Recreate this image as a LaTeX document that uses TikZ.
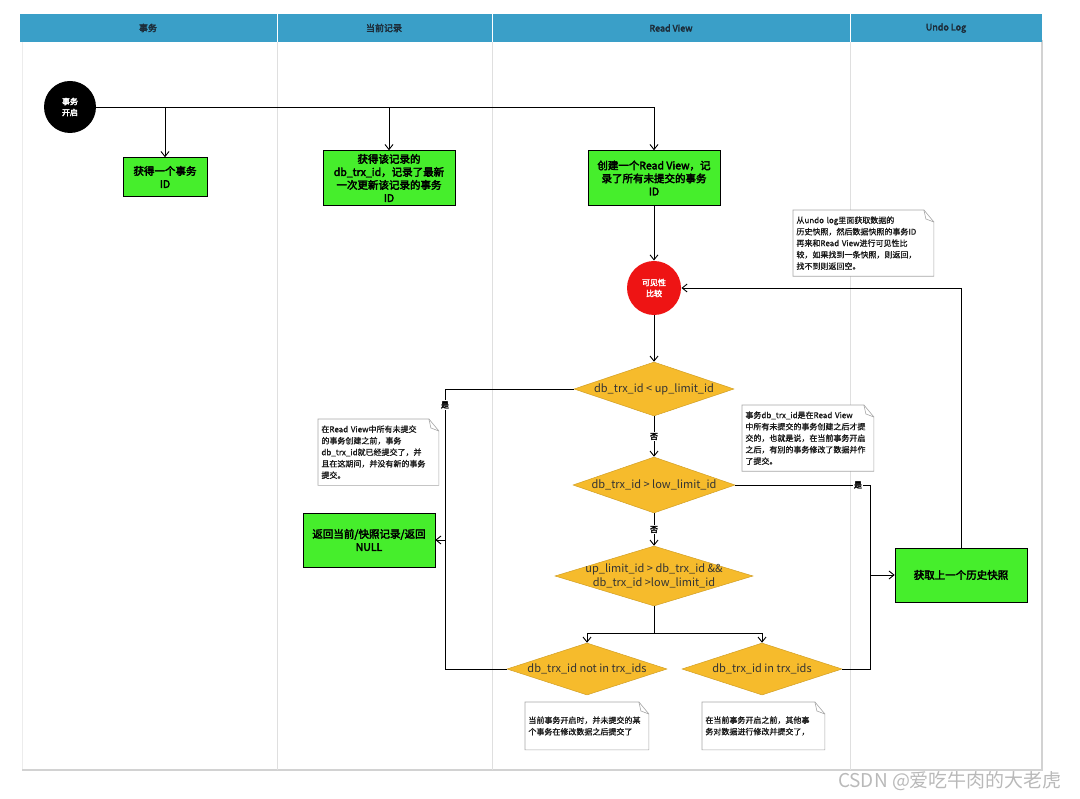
\documentclass[tikz,border=0pt]{standalone}
\usepackage{fontspec}
\setmainfont{Noto Sans CJK SC}
\newfontfamily\hw[FakeBold=3]{Noto Sans CJK SC}
\newfontfamily\nf[FakeBold=1]{Noto Sans CJK SC}
\usepackage{tikz}
\usetikzlibrary{shapes,shapes.geometric}
\usetikzlibrary{arrows,arrows.meta,positioning}
\definecolor{hdblue}{HTML}{3A9FC8}
\definecolor{boxgreen}{HTML}{46EE2C}
\definecolor{dmorange}{HTML}{F6BB2C}
\definecolor{cmpred}{HTML}{EE1414}
\definecolor{hdtext}{HTML}{1D2D3A}
\tikzstyle{hd}=[text=hdtext, font=\hw\fontsize{9}{9}\selectfont]
\tikzstyle{gb}=[rectangle, draw=black, line width=0.6pt, fill=boxgreen, align=center, inner sep=2pt, font=\hw\fontsize{10.5}{13}\selectfont]
\tikzstyle{cl}=[circle, text=white, align=center, inner sep=0pt, minimum size=52pt, font=\hw\fontsize{8}{11}\selectfont]
\tikzstyle{dm}=[diamond, draw=dmorange!85!black, line width=0.5pt, fill=dmorange, inner sep=0pt]
\tikzstyle{dt}=[align=center, text=black!80, font=\fontsize{11}{14}\selectfont]
\tikzstyle{nt}=[rectangle, fill=white, anchor=north west, align=left, inner xsep=3pt, inner ysep=6pt, text=black!90, font=\nf\fontsize{8}{11.5}\selectfont]
\tikzstyle{yn}=[fill=white, inner sep=1pt, font=\hw\fontsize{8}{8}\selectfont]
\newcommand{\dogear}[1]{%
  \draw[gray!70, line width=0.6pt] (#1.south west) -- (#1.north west) -- ([xshift=-10pt]#1.north east)
    -- ([yshift=-12pt]#1.north east) -- (#1.south east) -- cycle;
  \draw[gray!70, line width=0.6pt] ([xshift=-10pt]#1.north east) -- ([xshift=-8pt,yshift=-9pt]#1.north east)
    -- ([yshift=-12pt]#1.north east);}

\begin{document}
\begin{tikzpicture}
[x=1pt, y=-1pt, line width=0.9pt, >={Straight Barb[length=5pt,width=8pt]}]
\useasboundingbox (0,0) rectangle (1080,799);
% page frame and lanes
\draw[gray!15, line width=1pt] (22,42) -- (22,770);
\draw[gray!35, line width=2.5pt] (1042,40) -- (1042,770) -- (22,770);
\foreach \lx in {277,492,850}
  \draw[gray!25, line width=1pt] (\lx,42) -- (\lx,770);
\fill[hdblue] (20,14) rectangle (1042,42);
\foreach \lx in {277,492,850}
  \draw[white, line width=0.8pt] (\lx,14) -- (\lx,42);
\node[hd] (h1) at (148,28) {事务};
\node[hd] (h2) at (384,28) {当前记录};
\node[hd] (h3) at (671,28) {Read View};
\node[hd] (h4) at (946,28) {Undo Log};

% nodes
\node[cl, fill=black] (st) at (70,107) {事务\\开启};
\node[gb, minimum width=84pt, minimum height=39pt] (id) at (165,177) {获得一个事务\\ID};
\node[gb, minimum width=132pt, minimum height=55pt] (rec) at (389,178) {获得该记录的\\db\_trx\_id，记录了最新\\一次更新该记录的事务\\ID};
\node[gb, minimum width=132pt, minimum height=55pt] (rv) at (654,178) {创建一个Read View，记\\录了所有未提交的事务\\ID};
\node[cl, fill=cmpred, minimum size=54pt] (cmp) at (654,288) {可见性\\比较};
\node[dm, minimum width=160pt, minimum height=54pt,
  label={[dt,name=ltx]center:db\_trx\_id < up\_limit\_id}] (lt) at (654,389) {};
\node[dm, minimum width=162pt, minimum height=56pt,
  label={[dt,name=gtx]center:db\_trx\_id > low\_limit\_id}] (gt) at (654,485) {};
\node[dm, minimum width=198pt, minimum height=60pt,
  label={[dt,name=btx]center:up\_limit\_id > db\_trx\_id \&\&\\db\_trx\_id >low\_limit\_id}] (btw) at (654,576) {};
\node[dm, minimum width=160pt, minimum height=52pt,
  label={[dt,name=ninx]center:db\_trx\_id not in trx\_ids}] (nin) at (587,669) {};
\node[dm, minimum width=160pt, minimum height=52pt,
  label={[dt,name=innx]center:db\_trx\_id in trx\_ids}] (inn) at (762,669) {};
\node[gb, minimum width=132pt, minimum height=54pt] (ret) at (369,540) {返回当前/快照记录/返回\\NULL};
\node[gb, minimum width=132pt, minimum height=54pt] (hist) at (961,575) {获取上一个历史快照};

% notes
\node[nt, text width=134pt] (na) at (793,210) {从undo log里面获取数据的\\历史快照，然后数据快照的事务ID\\再来和Read View进行可见性比\\较，如果找到一条快照，则返回，\\找不到则返回空。};
\dogear{na}
\node[nt, text width=114pt] (nb) at (318,419) {在Read View中所有未提交\\的事务创建之前，事务\\db\_trx\_id就已经提交了，并\\且在这期间，并没有新的事务\\提交。};
\dogear{nb}
\node[nt, text width=125pt] (nc) at (742,405) {事务db\_trx\_id是在Read View\\中所有未提交的事务创建之后才提\\交的，也就是说，在当前事务开启\\之后，有别的事务修改了数据并作\\了提交。};
\dogear{nc}
\node[nt, text width=117pt, minimum height=47pt] (nd) at (525,702) {当前事务开启时，并未提交的某\\个事务在修改数据之后提交了};
\dogear{nd}
\node[nt, text width=116pt, minimum height=47pt] (ne) at (702,702) {在当前事务开启之前，其他事\\务对数据进行修改并提交了，};
\dogear{ne}

% connectors
\coordinate (ly) at (445,669);
\coordinate (lr) at (445,540);
\coordinate (ry) at (870,669);
\coordinate (rr) at (870,575);
\coordinate (sp) at (654,633);
\draw[->] (st.east) -| (id.north);
\draw[->] (st.east) -| (rec.north);
\draw[->] (st.east) -| (rv.north);
\path[->]
  (rv) edge (cmp)
  (cmp) edge (lt)
  (lt) edge node[yn] (n1) {否} (gt)
  (gt) edge node[yn] (n2) {否} (btw);
\draw (lt.west) -| (ly) -- (nin.west);
\node[yn] (y1) at (445,405) {是};
\draw[->] (lr) -- (ret.east);
\draw (gt.east) -| (ry) -- (inn.east);
\node[yn] (y2) at (858,485) {是};
\draw[->] (rr) -- (hist.west);
\draw[->] (hist.north) |- (cmp.east);
\draw (btw.south) -- (sp);
\draw[->] (sp) -| (nin.north);
\draw[->] (sp) -| (inn.north);

\node[text=gray!55, font=\fontsize{19}{19}\selectfont] (wm) at (950,781) {CSDN @爱吃牛肉的大老虎};
\end{tikzpicture}
\end{document}
